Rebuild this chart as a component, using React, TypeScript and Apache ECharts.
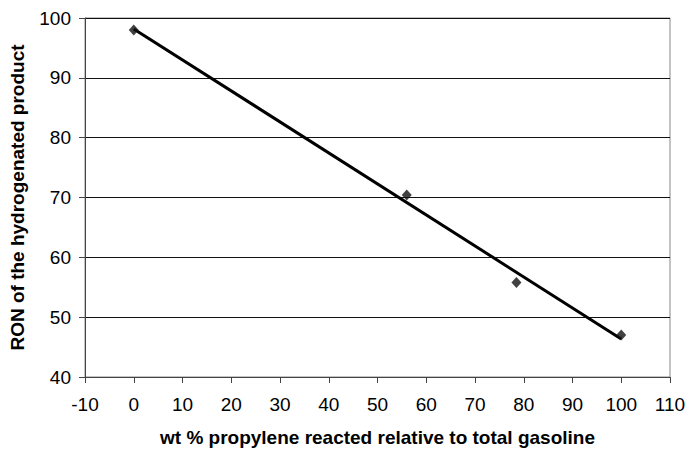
import React, { useEffect, useRef } from "react";
import * as echarts from "echarts";

const xValues: number[] = [0, 56, 78.5, 100];
const ronValues: number[] = [98, 70.4, 55.8, 47];
const xTitle = "wt % propylene reacted relative to total gasoline";
const yTitle = "RON of the hydrogenated product";

function linearFit(xs: number[], ys: number[]) {
  const n = xs.length;
  const mx = xs.reduce((a, b) => a + b, 0) / n;
  const my = ys.reduce((a, b) => a + b, 0) / n;
  let sxy = 0;
  let sxx = 0;
  for (let i = 0; i < n; i++) {
    sxy += (xs[i] - mx) * (ys[i] - my);
    sxx += (xs[i] - mx) * (xs[i] - mx);
  }
  const slope = sxy / sxx;
  const intercept = my - slope * mx;
  return { slope, intercept };
}

export default function App() {
  const ref = useRef<HTMLDivElement>(null);
  useEffect(() => {
    document.body.style.margin = "0";
    if (!ref.current) return;
    const chart = echarts.init(ref.current, null, { renderer: "svg" });
    const fit = linearFit(xValues, ronValues);
    const x0 = Math.min(...xValues);
    const x1 = Math.max(...xValues);
    const trend = [
      [x0, fit.intercept + fit.slope * x0],
      [x1, fit.intercept + fit.slope * x1],
    ];
    const font = "'Liberation Sans', Arial, Helvetica, sans-serif";
    chart.setOption({
      animation: false,
      backgroundColor: "#ffffff",
      textStyle: { fontFamily: font },
      grid: {
        left: 85,
        right: 22,
        top: 18,
        bottom: 72,
        outerBoundsMode: "none",
        containLabel: false,
        show: true,
        borderColor: "#888888",
        borderWidth: 1,
        backgroundColor: "transparent",
      },
      xAxis: {
        type: "value",
        min: -10,
        max: 110,
        interval: 10,
        name: xTitle,
        nameLocation: "middle",
        nameGap: 51,
        nameTextStyle: {
          fontFamily: font,
          fontSize: 19,
          fontWeight: "bold",
          color: "#000",
        },
        axisLine: { show: true, onZero: false, lineStyle: { color: "#444", width: 1 } },
        axisTick: { show: true, length: 6, inside: false, lineStyle: { color: "#444" } },
        axisLabel: { fontFamily: font, fontSize: 19, color: "#000", margin: 18 },
        splitLine: { show: false },
      },
      yAxis: {
        type: "value",
        min: 40,
        max: 100,
        interval: 10,
        name: yTitle,
        nameLocation: "middle",
        nameGap: 58,
        nameTextStyle: {
          fontFamily: font,
          fontSize: 19,
          fontWeight: "bold",
          color: "#000",
        },
        axisLine: { show: true, onZero: false, lineStyle: { color: "#444", width: 1 } },
        axisTick: { show: true, length: 6, inside: false, lineStyle: { color: "#444" } },
        axisLabel: { fontFamily: font, fontSize: 19, color: "#000", margin: 14 },
        splitLine: { show: true, lineStyle: { color: "#111", width: 1 } },
      },
      series: [
        {
          type: "line",
          data: trend,
          symbol: "none",
          lineStyle: { color: "#000", width: 3 },
          z: 2,
        },
        {
          type: "scatter",
          data: xValues.map((x, i) => [x, ronValues[i]]),
          symbol: "diamond",
          symbolSize: [10, 11],
          itemStyle: { color: "#111" },
          z: 3,
        },
      ],
    });
    return () => chart.dispose();
  }, []);
  return <div ref={ref} style={{ width: 692, height: 449 }} />;
}
